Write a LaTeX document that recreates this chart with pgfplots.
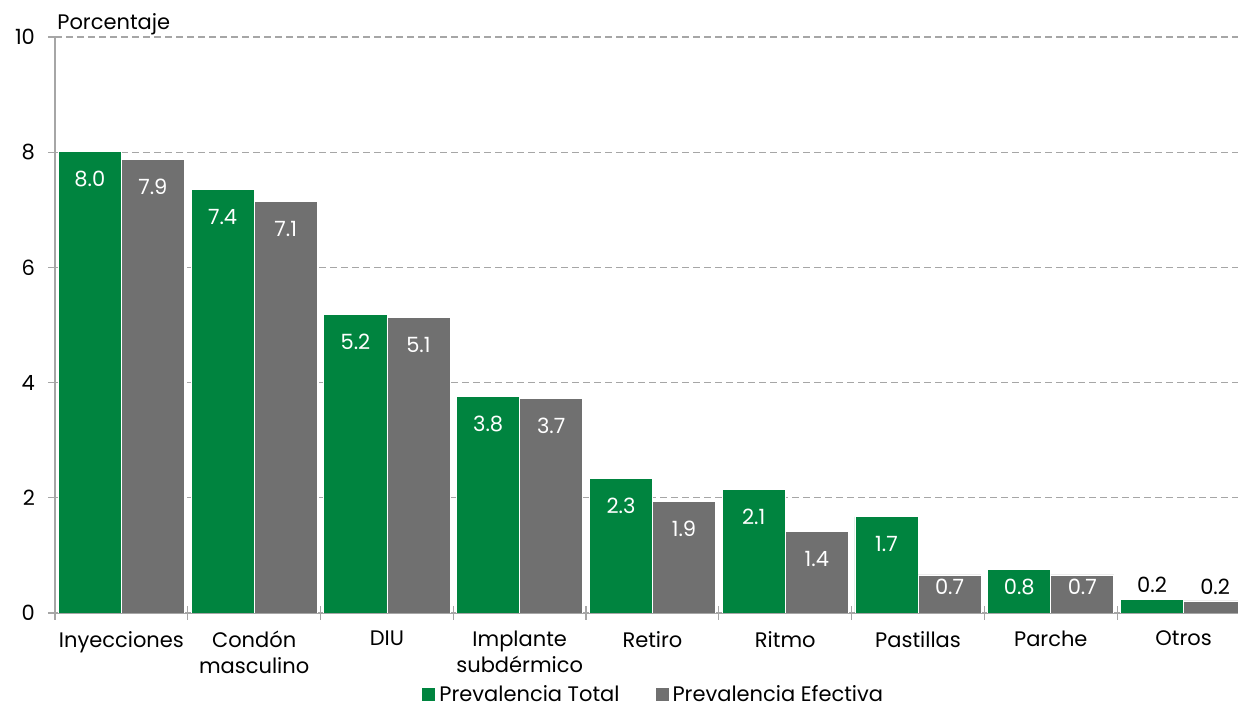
\documentclass[border=0pt]{standalone}
\usepackage{pgfplots}
\pgfplotsset{compat=1.18}
\usepackage{pgfplotstable}
\usepackage{fontspec}
\setmainfont{Poppins}

\definecolor{verde}{RGB}{0,132,63}
\definecolor{gris}{RGB}{112,112,112}
\definecolor{eje}{RGB}{166,166,166}

% x: posicion de la categoria; t: prevalencia total; e: prevalencia efectiva
\pgfplotstableread{
x t    e
0 8.02 7.88
1 7.36 7.14
2 5.19 5.13
3 3.76 3.72
4 2.34 1.94
5 2.14 1.41
6 1.67 0.66
7 0.76 0.66
8 0.24 0.21
}\datos

\begin{document}
\begin{tikzpicture}
\begin{axis}[
  scale only axis,
  width=591.5pt, height=288pt,
  ybar=0pt, bar width=0.475,
  xmin=-0.5, xmax=8.41,
  ymin=0, ymax=10,
  axis lines*=left,
  axis line style={eje, line width=0.6pt, -},
  font=\fontsize{10.5}{12.5}\selectfont,
  /pgf/number format/assume math mode=true,
  tick align=outside,
  major tick length=3.5pt,
  xtick={0,...,8},
  xticklabels={Inyecciones,{Condón\\masculino},DIU,{Implante\\subdérmico},Retiro,Ritmo,Pastillas,Parche,Otros},
  xticklabel style={align=center, font=\fontsize{10.5}{13}\selectfont, yshift=-2pt},
  xtick style={draw=none},
  extra x ticks={-0.5,0.5,...,7.5},
  extra x tick labels={},
  extra x tick style={tick align=center, major tick length=6.5pt, xtick style={draw=eje, line width=0.6pt}},
  ytick={0,2,...,10},
  ytick style={draw=eje, line width=0.6pt},
  yticklabel style={font=\fontsize{10.5}{12.5}\selectfont, xshift=-3pt},
  ymajorgrids,
  grid style={eje, line width=0.6pt, dash pattern=on 3.5pt off 2pt},
  every axis plot/.append style={draw=white, line width=0.4pt},
  point meta=explicit symbolic,
  nodes near coords={\ifdim\pgfplotspointmeta pt<0.5pt\color{black}\fi\pgfmathprintnumber[fixed,precision=1,zerofill]{\pgfplotspointmeta}},
  every node near coord/.append style={text=white, anchor=center,
    font=\fontsize{10.5}{12.5}\selectfont,
    yshift={(\pgfplotspointmeta<0.5 ? 7 : -min(13.75,28.8*\pgfplotspointmeta-13))*1pt}},
  legend style={at={(0.507,-0.142)}, anchor=center, draw=none, fill=none,
    legend columns=2, font=\fontsize{10.5}{12.5}\selectfont,
    /tikz/every even column/.append style={column sep=16pt}},
  legend image code/.code={\fill[#1,draw=none] (0pt,-3.25pt) rectangle (6.5pt,3.25pt);},
]
\addplot[fill=verde] table[x=x, y=t, meta=t] {\datos};
\addplot[fill=gris] table[x=x, y=e, meta=e] {\datos};
\legend{Prevalencia Total, Prevalencia Efectiva}
\end{axis}
\node[anchor=base west, inner sep=0pt, font=\fontsize{10.5}{12.5}\selectfont]
  at ([shift={(1pt,3.5pt)}]current axis.north west) {Porcentaje};
\pgfresetboundingbox
\path ([shift={(-27.5pt,-47pt)}]current axis.south west) rectangle ([shift={(0pt,18.5pt)}]current axis.north east);
\end{tikzpicture}
\end{document}
